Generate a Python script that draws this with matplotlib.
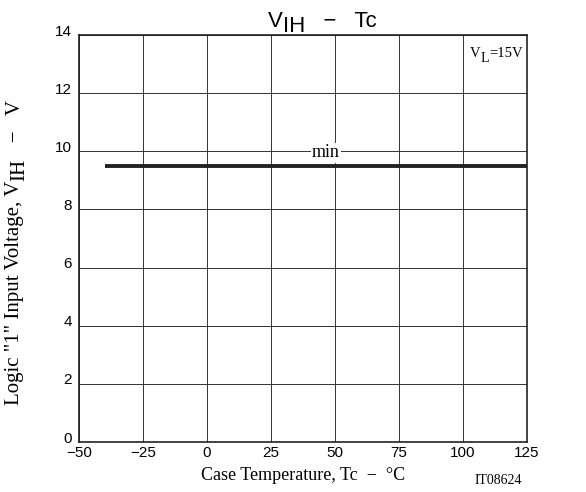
import matplotlib.pyplot as plt
import matplotlib.transforms as mtransforms

temp = [-40, 125]
vih_min = [9.5, 9.5]
xticks = [-50, -25, 0, 25, 50, 75, 100, 125]
xtick_labels = ['\u221250', '\u221225', '0', '25', '50', '75', '100', '125']
yticks = [0, 2, 4, 6, 8, 10, 12, 14]

serif = ['Liberation Serif', 'DejaVu Serif']
sans = ['Liberation Sans', 'DejaVu Sans']
white = dict(facecolor='white', edgecolor='none', pad=0.5)

fig = plt.figure(figsize=(5.86, 4.92), dpi=100)
ax = fig.add_axes([0.1348, 0.1016, 0.7645, 0.8272])

ax.plot(temp, vih_min, color='#222222', lw=2.8, solid_capstyle='butt', zorder=3)

ax.set_xlim(-50, 125)
ax.set_ylim(0, 14)
ax.set_xticks(xticks)
ax.set_yticks(yticks)
ax.set_xticklabels(xtick_labels, family=sans, fontsize=11)
ax.set_yticklabels([str(v) for v in yticks], family=sans, fontsize=11)
ax.tick_params(length=0)
ax.tick_params(axis='y', pad=5)
ax.tick_params(axis='x', pad=3)
# y labels sit a bit above their grid lines in the original
shift = mtransforms.ScaledTranslation(0, 5 / 100, fig.dpi_scale_trans)
for lab in ax.get_yticklabels():
    lab.set_transform(lab.get_transform() + shift)
ax.grid(True, color='#333333', lw=0.7)
for s in ax.spines.values():
    s.set_linewidth(1.2)
    s.set_color('#222222')
    s.set_zorder(5)

ax.text(46.5, 9.95, 'min', family=serif, fontsize=13, ha='center', va='center',
        bbox=dict(facecolor='white', edgecolor='none', pad=1), zorder=4)

# V_L=15V with a full-size, lowered subscript (built right to left)
v3 = ax.text(123.3, 13.25, '=15V', family=serif, fontsize=10.5, ha='right',
             va='baseline', bbox=white, zorder=4)
v2 = ax.annotate('L', xy=(0, 0), xycoords=v3, xytext=(0, -5), textcoords='offset pixels',
                 family=serif, fontsize=10, ha='right', va='bottom', zorder=4,
                 bbox=white)
ax.annotate('V', xy=(0, 0), xycoords=v2, xytext=(0, 5), textcoords='offset pixels',
            family=serif, fontsize=10.5, ha='right', va='bottom', zorder=4, bbox=white)

# title: V_IH - Tc
t1 = fig.text(268 / 586, 1 - 27 / 492, 'V', family=sans, fontsize=16,
              ha='left', va='baseline')
t2 = ax.annotate('IH', xy=(1, 0), xycoords=t1, xytext=(0, -5), textcoords='offset pixels',
                 family=sans, fontsize=16, ha='left', va='bottom', annotation_clip=False)
ax.annotate('   \u2212   Tc', xy=(1, 0), xycoords=t2, xytext=(0, 5),
            textcoords='offset pixels', family=sans, fontsize=16,
            ha='left', va='bottom', annotation_clip=False)

ax.set_xlabel('Case Temperature, Tc  \u2212  \u00b0C', family=serif, fontsize=13, labelpad=5)

# y label built from pieces so the subscript stays full size
y1 = fig.text(15 / 586, 1 - 405 / 492, 'Logic "1" Input Voltage, V', family=serif,
              fontsize=15, rotation=90, ha='center', va='bottom')
y2 = ax.annotate('IH', xy=(0.5, 1), xycoords=y1, xytext=(5, 0), textcoords='offset pixels',
                 family=serif, fontsize=15, rotation=90, ha='center', va='bottom',
                 annotation_clip=False)
ax.annotate('   \u2212   V', xy=(0.5, 1), xycoords=y2, xytext=(-5, 0),
            textcoords='offset pixels', family=serif, fontsize=15, rotation=90,
            ha='center', va='bottom', annotation_clip=False)

fig.text(522 / 586, 1 - 480 / 492, 'IT08624', family=serif, fontsize=10,
         ha='right', va='center')

fig.savefig('out.png', dpi=100)
